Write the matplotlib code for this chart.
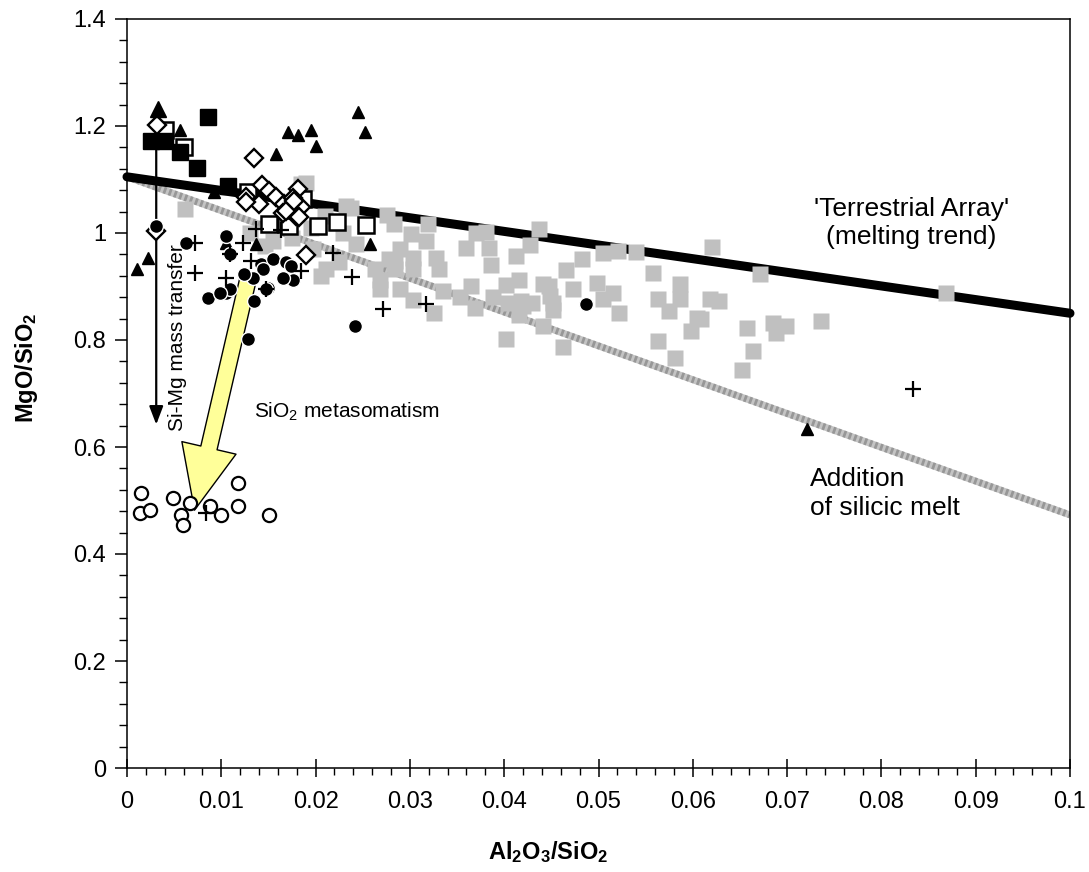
import matplotlib
matplotlib.use("Agg")
import matplotlib.pyplot as plt
from matplotlib.ticker import MultipleLocator, FuncFormatter

plt.rcParams['font.family'] = ['Liberation Sans', 'DejaVu Sans']
plt.rcParams['mathtext.fontset'] = 'custom'
plt.rcParams['mathtext.rm'] = 'Liberation Sans'
plt.rcParams['mathtext.it'] = 'Liberation Sans:italic'
plt.rcParams['mathtext.bf'] = 'Liberation Sans:bold'

# peridotite whole-rock ratios, grouped by sample suite
gray_x = [0.0061, 0.0184, 0.0130, 0.0155, 0.0197, 0.0210, 0.0229, 0.0238, 0.0243, 0.0225,
          0.0206, 0.0211, 0.0232, 0.0276, 0.0283, 0.0319, 0.0301, 0.0317, 0.0289, 0.0284,
          0.0303, 0.0328, 0.0331, 0.0303, 0.0284, 0.0268, 0.0268, 0.0289, 0.0303, 0.0335,
          0.0326, 0.0353, 0.0365, 0.0369, 0.0360, 0.0370, 0.0384, 0.0381, 0.0386, 0.0388,
          0.0402, 0.0416, 0.0413, 0.0437, 0.0427, 0.0402, 0.0418, 0.0416, 0.0441, 0.0430,
          0.0448, 0.0278, 0.0263, 0.0452, 0.0462, 0.0466, 0.0473, 0.0483, 0.0441, 0.0449,
          0.0404, 0.0420, 0.0452, 0.0498, 0.0505, 0.0521, 0.0540, 0.0505, 0.0522, 0.0515,
          0.0558, 0.0586, 0.0563, 0.0586, 0.0575, 0.0604, 0.0598, 0.0618, 0.0628, 0.0620,
          0.0563, 0.0581, 0.0658, 0.0664, 0.0652, 0.0685, 0.0699, 0.0688, 0.0671, 0.0609,
          0.0736, 0.0869, 0.0190, 0.0165, 0.0175, 0.0146, 0.0195]
gray_y = [1.044, 1.091, 1.000, 0.985, 0.970, 1.032, 1.000, 1.046, 0.979, 0.946,
          0.920, 0.932, 1.050, 1.034, 1.016, 1.016, 0.998, 0.985, 0.971, 0.948,
          0.954, 0.954, 0.932, 0.932, 0.932, 0.913, 0.895, 0.895, 0.874, 0.891,
          0.850, 0.880, 0.901, 0.859, 0.972, 1.000, 0.972, 1.002, 0.940, 0.880,
          0.902, 0.913, 0.957, 1.007, 0.977, 0.801, 0.872, 0.846, 0.827, 0.870,
          0.900, 0.951, 0.932, 0.870, 0.786, 0.930, 0.895, 0.951, 0.904, 0.882,
          0.870, 0.863, 0.857, 0.907, 0.963, 0.966, 0.965, 0.876, 0.851, 0.888,
          0.926, 0.904, 0.876, 0.876, 0.854, 0.842, 0.817, 0.876, 0.873, 0.973,
          0.798, 0.767, 0.823, 0.779, 0.743, 0.832, 0.826, 0.814, 0.923, 0.839,
          0.835, 0.887, 1.094, 1.020, 0.990, 0.975, 1.010]

bsq_x = [0.00257, 0.00408, 0.00557, 0.0074, 0.00857, 0.01069]
bsq_y = [1.172, 1.172, 1.152, 1.121, 1.216, 1.088]

osq_x = [0.0040, 0.0060, 0.0128, 0.01865, 0.0151, 0.0169, 0.0172, 0.0203, 0.0223, 0.0253]
osq_y = [1.192, 1.160, 1.076, 1.063, 1.016, 1.016, 1.013, 1.013, 1.021, 1.0145]

tri_x = [0.00557, 0.01705, 0.0181, 0.01946, 0.02006, 0.01582, 0.0092, 0.0105, 0.0137,
         0.0022, 0.00104, 0.02582, 0.0721, 0.02445, 0.0252]
tri_y = [1.193, 1.188, 1.1835, 1.193, 1.163, 1.147, 1.076, 0.981, 0.979,
         0.954, 0.933, 0.979, 0.633, 1.226, 1.188]
bigtri_x = [0.00327]
bigtri_y = [1.232]

dia_x = [0.00316, 0.01352, 0.01257, 0.01433, 0.01511, 0.01582, 0.01405, 0.0167, 0.01811,
         0.01758, 0.01847, 0.01652, 0.01794, 0.0031, 0.0190, 0.01688, 0.01776, 0.01829, 0.0126]
dia_y = [1.2017, 1.141, 1.068, 1.089, 1.079, 1.068, 1.054, 1.054, 1.082,
         1.066, 1.048, 1.038, 1.032, 1.004, 0.959, 1.041, 1.060, 1.029, 1.058]

dot_x = [0.0031, 0.00628, 0.01052, 0.00857, 0.01052, 0.01352, 0.0128, 0.01423, 0.01546,
         0.01688, 0.0144, 0.01758, 0.01493, 0.01334, 0.01246, 0.01087, 0.01741, 0.01652,
         0.02413, 0.0487, 0.0099, 0.01087, 0.01476]
dot_y = [1.013, 0.982, 0.9945, 0.879, 0.888, 0.873, 0.801, 0.9415, 0.951,
         0.945, 0.932, 0.913, 0.898, 0.9166, 0.923, 0.895, 0.938, 0.9166,
         0.826, 0.8666, 0.888, 0.960, 0.895]

plus_x = [0.00726, 0.0123, 0.00726, 0.01045, 0.01317, 0.02183, 0.01847, 0.0137, 0.0163,
          0.02384, 0.02713, 0.03173, 0.0833, 0.0084, 0.01087, 0.01476]
plus_y = [0.981, 0.981, 0.9246, 0.915, 0.948, 0.963, 0.929, 1.007, 1.005,
          0.918, 0.8585, 0.8666, 0.7088, 0.4767, 0.960, 0.895]

ocirc_x = [0.0015, 0.00133, 0.00239, 0.00486, 0.00663, 0.00575, 0.00592, 0.00875, 0.00999,
           0.01175, 0.01175, 0.0151]
ocirc_y = [0.514, 0.4767, 0.483, 0.505, 0.4955, 0.4735, 0.455, 0.489, 0.4735,
           0.533, 0.490, 0.4735]

# trend lines (start, end)
terr_x = [0.0, 0.1]
terr_y = [1.105, 0.85]
melt_x = [0.0, 0.1]
melt_y = [1.105, 0.473]

fig = plt.figure(figsize=(10.89, 8.72), dpi=100)
ax = fig.add_axes([127 / 1089, 104 / 872, 943 / 1089, 749 / 872])

# silicic melt trend: light band with a fine stipple on top
ax.plot(melt_x, melt_y, color='#c4c4c4', lw=5, zorder=1, solid_capstyle='butt')
ax.plot(melt_x, melt_y, color='#7a7a7a', lw=5, zorder=1.05, dashes=(0.4, 0.4),
        dash_capstyle='butt', alpha=0.6)
ax.plot(terr_x, terr_y, color='black', lw=6.5, zorder=1.2, solid_capstyle='round', clip_on=False)

ax.plot(gray_x, gray_y, 's', ms=11.5, color='#c0c0c0', mec='none', zorder=2)

# Si-Mg mass transfer arrow
ax.annotate('', xy=(0.0031, 0.642), xytext=(0.0031, 1.20),
            arrowprops=dict(arrowstyle='-|>,head_length=1.1,head_width=0.42', mutation_scale=10,
                            lw=1.6, color='black', shrinkA=0, shrinkB=0), zorder=2.2)
ax.text(0.0054, 0.805, 'Si-Mg mass transfer', rotation=90, fontsize=15,
        ha='center', va='center', zorder=2.3)

# metasomatism arrow
ax.annotate('', xy=(0.00716, 0.482), xytext=(0.0130, 0.926),
            arrowprops=dict(arrowstyle='simple,head_length=4.6,head_width=4.0,tail_width=1.2',
                            mutation_scale=10, fc='#ffff99', ec='black', lw=1.0,
                            shrinkA=0, shrinkB=0), zorder=2.5)

ax.plot(osq_x, osq_y, 's', ms=11, mfc='white', mec='black', mew=1.8, zorder=3)
ax.plot(bsq_x, bsq_y, 's', ms=11, color='black', zorder=3.1)
ax.plot(dia_x, dia_y, 'D', ms=9, mfc='white', mec='black', mew=1.7, zorder=3.2)
ax.plot(tri_x, tri_y, '^', ms=9, color='black', zorder=3.3)
ax.plot(bigtri_x, bigtri_y, '^', ms=11, color='black', zorder=3.3)
ax.plot(dot_x, dot_y, 'o', ms=10, mfc='black', mec='white', mew=1.0, zorder=3.4)
ax.plot(plus_x, plus_y, '+', ms=12, color='black', mew=1.6, zorder=3.5)
ax.plot(ocirc_x, ocirc_y, 'o', ms=9.5, mfc='white', mec='black', mew=1.6, zorder=3.4)

ax.text(0.0135, 0.666, 'SiO$_2$ metasomatism', fontsize=15, ha='left', va='center')
ax.text(0.0832, 1.018, "'Terrestrial Array'\n(melting trend)", fontsize=19,
        ha='center', va='center', linespacing=1.2)
ax.text(0.0724, 0.513, 'Addition\nof silicic melt', fontsize=19,
        ha='left', va='center', linespacing=1.25)

ax.set_xlim(0, 0.1)
ax.set_ylim(0, 1.4)
ax.xaxis.set_major_locator(MultipleLocator(0.01))
ax.xaxis.set_minor_locator(MultipleLocator(0.002))
ax.yaxis.set_major_locator(MultipleLocator(0.2))
ax.yaxis.set_minor_locator(MultipleLocator(0.04))
fmt = FuncFormatter(lambda v, p: '%g' % round(v, 4))
ax.xaxis.set_major_formatter(fmt)
ax.yaxis.set_major_formatter(fmt)
ax.tick_params(axis='x', which='major', direction='inout', length=13, width=1.1,
               labelsize=17, pad=10)
ax.tick_params(axis='x', which='minor', direction='out', length=5, width=1.0)
ax.tick_params(axis='y', which='major', direction='out', length=9, width=1.1,
               labelsize=17, pad=6)
ax.tick_params(axis='y', which='minor', direction='out', length=6, width=1.0)
for s in ax.spines.values():
    s.set_linewidth(1.1)

fig.text(548 / 1089, 1 - 852 / 872, r'$\mathbf{Al_2O_3/SiO_2}$', fontsize=17,
         ha='center', va='center')
fig.text(26 / 1089, 1 - 368 / 872, r'$\mathbf{MgO/SiO_2}$', fontsize=17,
         ha='center', va='center', rotation=90)

fig.savefig('out.png', dpi=100)
